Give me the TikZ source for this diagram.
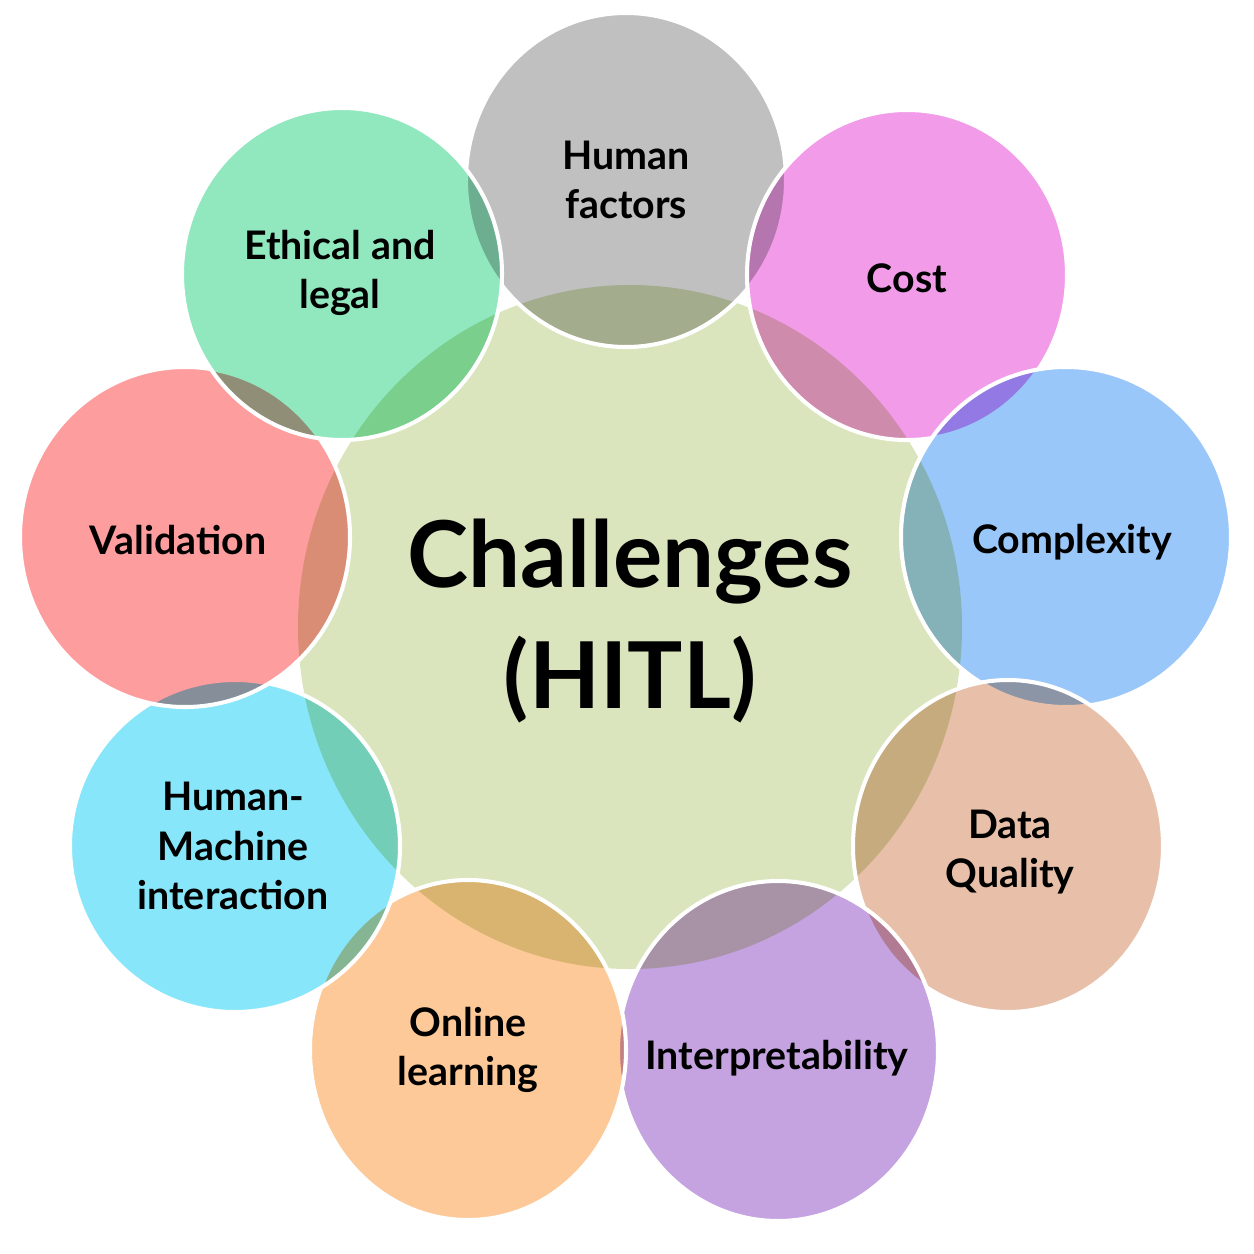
\documentclass[tikz,border=0pt]{standalone}
\usepackage{fontspec}
\setmainfont{Lato}
\definecolor{cCenter}{RGB}{218,229,189}
\definecolor{cGray}{RGB}{182,182,182}
\definecolor{cPink}{RGB}{240,139,230}
\definecolor{cBlue}{RGB}{137,190,249}
\definecolor{cTan}{RGB}{228,181,155}
\definecolor{cPurple}{RGB}{186,148,219}
\definecolor{cOrange}{RGB}{253,192,134}
\definecolor{cCyan}{RGB}{115,226,249}
\definecolor{cRed}{RGB}{254,141,142}
\definecolor{cGreen}{RGB}{126,228,180}
\tikzset{
  lbl/.style={align=center, text=black, font=\fontsize{22.4}{28}\selectfont\bfseries, inner sep=0pt},
  ring/.style={draw=white, line width=2.3pt},
}
\newcommand{\bubble}[4]{%
  \begin{scope}[blend mode=multiply]
    \fill[fill=#2, fill opacity=0.85] (#1) ellipse (#3 and #4);
  \end{scope}
  \draw[ring] (#1) ellipse (#3 and #4);
}
\begin{document}
\begin{tikzpicture}[x=0.02cm, y=-0.02cm]
\useasboundingbox (0,0) rectangle (1254,1254);
\fill[white] (0,0) rectangle (1254,1254);
% centres
\coordinate (pC) at (630,627);
\coordinate (pHF) at (626,180);
\coordinate (pCost) at (907,275);
\coordinate (pCx) at (1066,537);
\coordinate (pDQ) at (1008,846);
\coordinate (pIn) at (778,1051);
\coordinate (pOL) at (468,1050);
\coordinate (pHM) at (235,846);
\coordinate (pVa) at (185,537);
\coordinate (pEL) at (342,274);
% central circle
\fill[cCenter] (pC) ellipse (332 and 342);
% satellites
\bubble{pHF}{cGray}{160}{167}
\bubble{pCost}{cPink}{160}{165}
\bubble{pCx}{cBlue}{165}{170}
\bubble{pDQ}{cTan}{155}{166}
\bubble{pIn}{cPurple}{160}{170}
\bubble{pOL}{cOrange}{158}{170}
\bubble{pHM}{cCyan}{165}{166}
\bubble{pVa}{cRed}{165}{170}
\bubble{pEL}{cGreen}{160}{166}
% labels
\node[lbl, font=\fontsize{52.5}{69}\selectfont\bfseries] (center) at (630,621) {Challenges\\(HITL)};
\node[lbl] (hf) at (626,180) {Human\\factors};
\node[lbl] (cost) at (907,278) {Cost};
\node[lbl] (cx) at (1072,542) {Complexity};
\node[lbl] (dq) at (1010,852) {Data\\Quality};
\node[lbl] (in) at (777,1058) {Interpretability};
\node[lbl] (ol) at (468,1050) {Online\\learning};
\node[lbl] (hm) at (233,846) {Human-\\Machine\\interaction};
\node[lbl] (va) at (178,540) {Validation};
\node[lbl] (el) at (340,273) {Ethical and\\legal};
\end{tikzpicture}
\end{document}
